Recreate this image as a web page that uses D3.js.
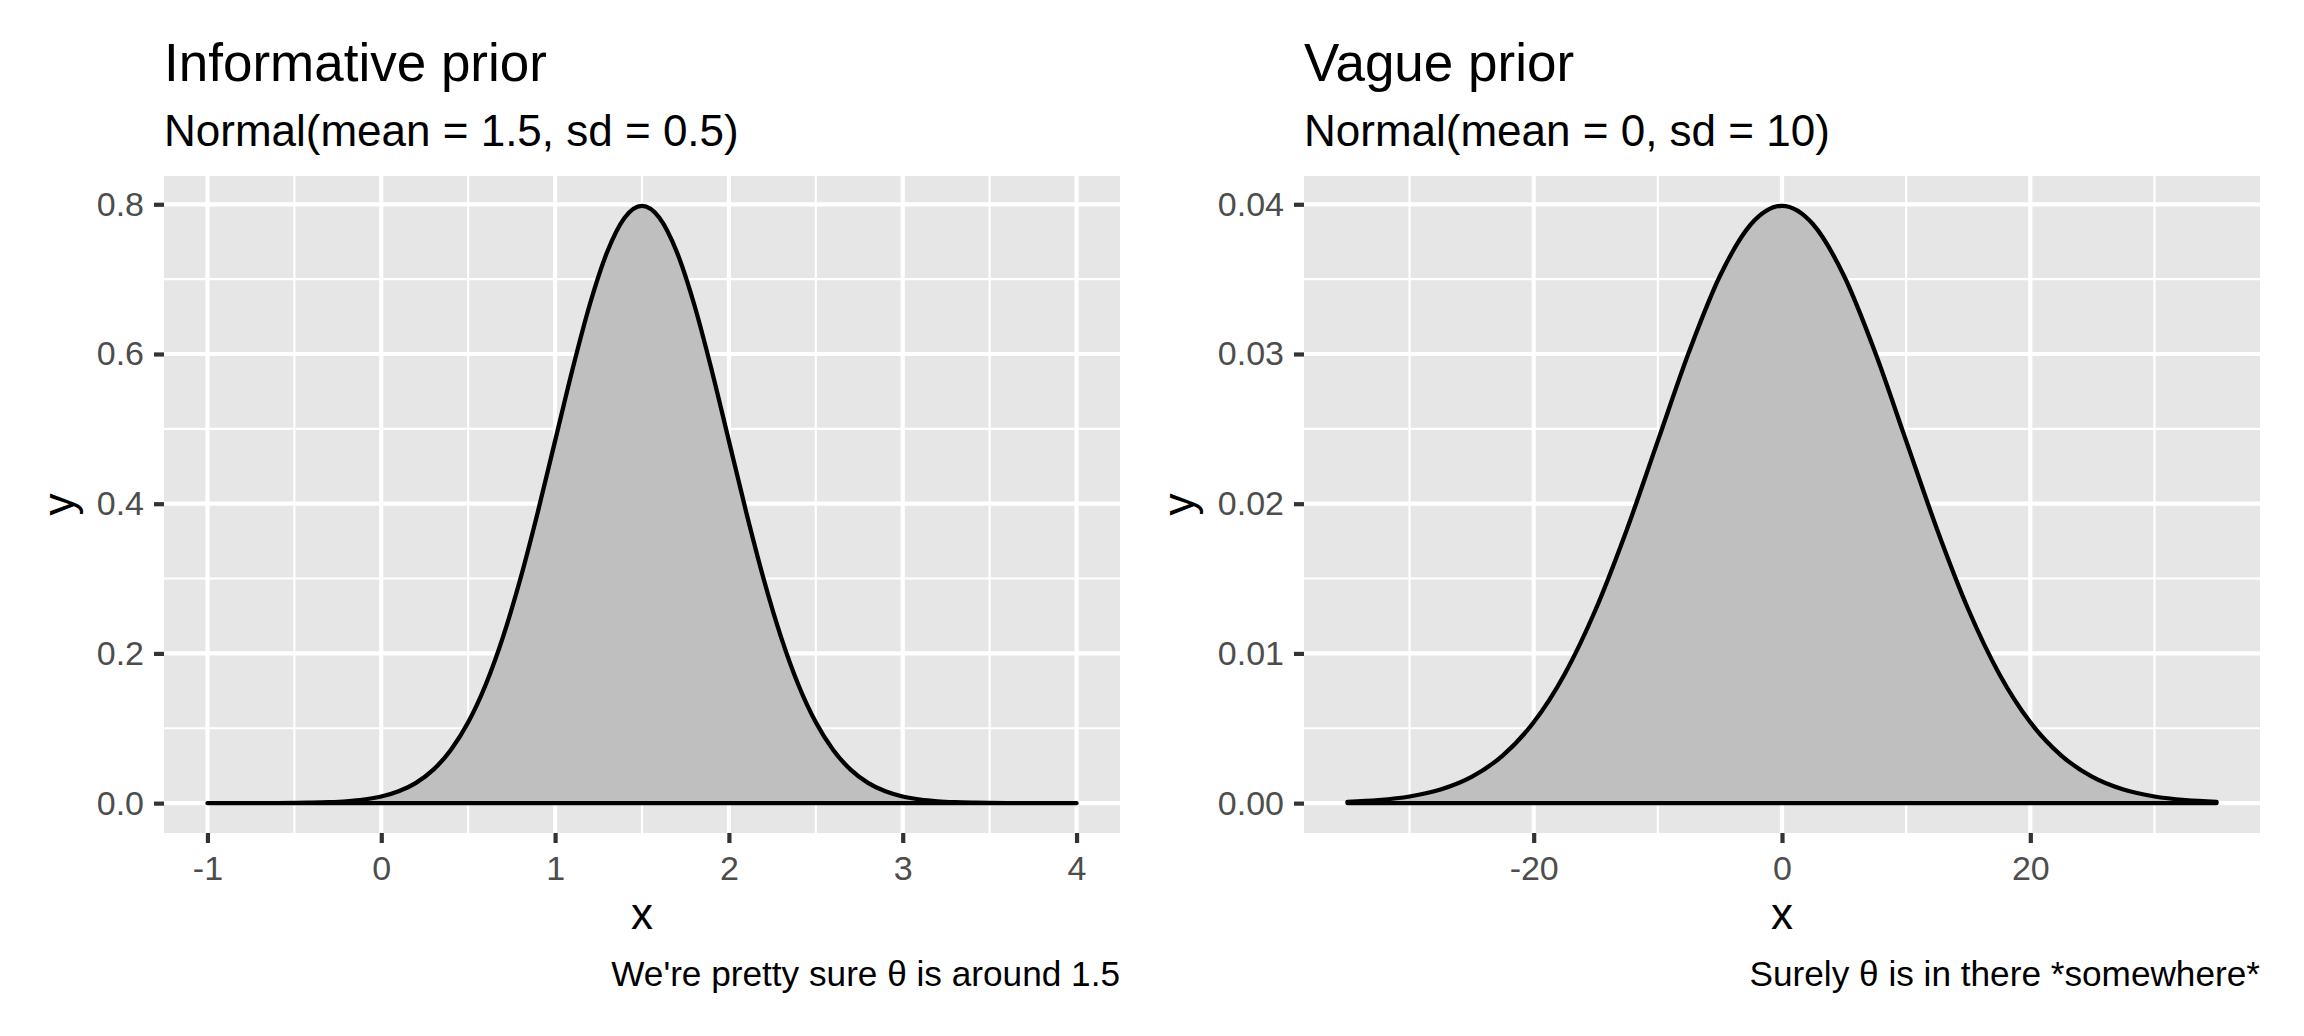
<!DOCTYPE html>
<html>
<head>
<meta charset="utf-8">
<script src="https://cdn.jsdelivr.net/npm/d3@7/dist/d3.min.js"></script>
<style>
  html, body { margin: 0; padding: 0; background: #ffffff; }
  svg { display: block; }
  text { font-family: "Liberation Sans", Arial, Helvetica, sans-serif; }
</style>
</head>
<body>
<svg id="chart" width="2304" height="1036"></svg>
<script>
// ---------------- data ----------------
const infoTitle = "Informative prior";
const infoSubtitle = "Normal(mean = 1.5, sd = 0.5)";
const infoCaption = "We're pretty sure θ is around 1.5";
const infoX = [-1.0,-0.9,-0.8,-0.7,-0.6,-0.5,-0.4,-0.3,-0.2,-0.1,
  0.0,0.1,0.2,0.3,0.4,0.5,0.6,0.7,0.8,0.9,
  1.0,1.1,1.2,1.3,1.4,1.5,1.6,1.7,1.8,1.9,
  2.0,2.1,2.2,2.3,2.4,2.5,2.6,2.7,2.8,2.9,
  3.0,3.1,3.2,3.3,3.4,3.5,3.6,3.7,3.8,3.9,4.0];
const infoY = [0.000003,0.000008,0.000020,0.000050,0.000118,0.000268,0.000584,0.001224,0.002465,0.004768,
  0.008864,0.015831,0.027166,0.044789,0.070949,0.107982,0.157900,0.221842,0.299455,0.388372,
  0.483941,0.579383,0.666449,0.736540,0.782085,0.797885,0.782085,0.736540,0.666449,0.579383,
  0.483941,0.388372,0.299455,0.221842,0.157900,0.107982,0.070949,0.044789,0.027166,0.015831,
  0.008864,0.004768,0.002465,0.001224,0.000584,0.000268,0.000118,0.000050,0.000020,0.000008,0.000003];
const infoXTicks = [-1, 0, 1, 2, 3, 4];
const infoXTickLabels = ["-1", "0", "1", "2", "3", "4"];
const infoXMinor = [-0.5, 0.5, 1.5, 2.5, 3.5];
const infoYTicks = [0, 0.2, 0.4, 0.6, 0.8];
const infoYTickLabels = ["0.0", "0.2", "0.4", "0.6", "0.8"];
const infoYMinor = [0.1, 0.3, 0.5, 0.7];

const vagueTitle = "Vague prior";
const vagueSubtitle = "Normal(mean = 0, sd = 10)";
const vagueCaption = "Surely θ is in there *somewhere*";
const vagueX = [-35,-32.5,-30,-27.5,-25,-22.5,-20,-17.5,-15,-12.5,-10,-7.5,-5,-2.5,
  0,2.5,5,7.5,10,12.5,15,17.5,20,22.5,25,27.5,30,32.5,35];
const vagueY = [0.0000873,0.000203,0.000443,0.000909,0.001753,0.003174,0.005399,0.008628,0.012952,0.018265,
  0.024197,0.030114,0.035207,0.038667,0.039894,0.038667,0.035207,0.030114,0.024197,0.018265,
  0.012952,0.008628,0.005399,0.003174,0.001753,0.000909,0.000443,0.000203,0.0000873];
const vagueXTicks = [-20, 0, 20];
const vagueXTickLabels = ["-20", "0", "20"];
const vagueXMinor = [-30, -10, 10, 30];
const vagueYTicks = [0, 0.01, 0.02, 0.03, 0.04];
const vagueYTickLabels = ["0.00", "0.01", "0.02", "0.03", "0.04"];
const vagueYMinor = [0.005, 0.015, 0.025, 0.035];

const xLabel = "x";
const yLabel = "y";

// ---------------- drawing ----------------
const svg = d3.select("#chart");

function expand(ext, f) {
  const d = (ext[1] - ext[0]) * f;
  return [ext[0] - d, ext[1] + d];
}

function drawPanel(cfg) {
  const { left, right, top, bottom } = cfg;
  const pts = cfg.xs.map((x, i) => ({ x: x, y: cfg.ys[i] }));
  const xExt = d3.extent(cfg.xs);
  const yExt = [0, d3.max(cfg.ys)];
  const x = d3.scaleLinear().domain(expand(xExt, 0.05)).range([left, right]);
  const y = d3.scaleLinear().domain(expand(yExt, 0.05)).range([bottom, top]);

  const g = svg.append("g");

  // panel background
  g.append("rect")
    .attr("x", left).attr("y", top)
    .attr("width", right - left).attr("height", bottom - top)
    .attr("fill", "#E6E6E6");

  // minor gridlines
  g.selectAll(".vminor").data(cfg.xMinor).enter().append("line")
    .attr("x1", d => x(d)).attr("x2", d => x(d))
    .attr("y1", top).attr("y2", bottom)
    .attr("stroke", "#ffffff").attr("stroke-width", 2.1);
  g.selectAll(".hminor").data(cfg.yMinor).enter().append("line")
    .attr("y1", d => y(d)).attr("y2", d => y(d))
    .attr("x1", left).attr("x2", right)
    .attr("stroke", "#ffffff").attr("stroke-width", 2.1);
  // major gridlines
  g.selectAll(".vmajor").data(cfg.xTicks).enter().append("line")
    .attr("x1", d => x(d)).attr("x2", d => x(d))
    .attr("y1", top).attr("y2", bottom)
    .attr("stroke", "#ffffff").attr("stroke-width", 4.2);
  g.selectAll(".hmajor").data(cfg.yTicks).enter().append("line")
    .attr("y1", d => y(d)).attr("y2", d => y(d))
    .attr("x1", left).attr("x2", right)
    .attr("stroke", "#ffffff").attr("stroke-width", 4.2);

  // area
  const area = d3.area()
    .x(d => x(d.x))
    .y0(y(0))
    .y1(d => y(d.y))
    .curve(d3.curveMonotoneX);
  g.append("path")
    .datum(pts)
    .attr("d", area)
    .attr("fill", "#BFBFBF")
    .attr("stroke", "#000000")
    .attr("stroke-width", 4.3)
    .attr("stroke-linejoin", "round");

  // axes
  const xAxis = d3.axisBottom(x)
    .tickValues(cfg.xTicks)
    .tickFormat((d, i) => cfg.xTickLabels[i])
    .tickSize(10).tickPadding(12.5);
  const gx = g.append("g").attr("transform", `translate(0,${bottom})`).call(xAxis);
  const yAxis = d3.axisLeft(y)
    .tickValues(cfg.yTicks)
    .tickFormat((d, i) => cfg.yTickLabels[i])
    .tickSize(10).tickPadding(10);
  const gy = g.append("g").attr("transform", `translate(${left},0)`).call(yAxis);
  [gx, gy].forEach(a => {
    a.select(".domain").remove();
    a.selectAll(".tick line").attr("stroke", "#333333").attr("stroke-width", 4.2);
    a.selectAll(".tick text")
      .attr("fill", "#4D4D4D")
      .style("font-size", "34px")
      .style("font-family", '"Liberation Sans", Arial, Helvetica, sans-serif');
  });

  // titles
  g.append("text").attr("x", left).attr("y", 81)
    .style("font-size", "53px").attr("fill", "#000")
    .text(cfg.title);
  g.append("text").attr("x", left).attr("y", 146)
    .style("font-size", "44px").attr("fill", "#000")
    .text(cfg.subtitle);

  // axis titles
  g.append("text")
    .attr("x", (left + right) / 2).attr("y", 929)
    .attr("text-anchor", "middle")
    .style("font-size", "44px").attr("fill", "#000")
    .text(xLabel);
  g.append("text")
    .attr("transform", `translate(${cfg.yTitleX},${(top + bottom) / 2}) rotate(-90)`)
    .attr("text-anchor", "middle")
    .style("font-size", "44px").attr("fill", "#000")
    .text(yLabel);

  // caption
  g.append("text")
    .attr("x", right).attr("y", 986)
    .attr("text-anchor", "end")
    .style("font-size", "35.2px").attr("fill", "#000")
    .text(cfg.caption);
}

drawPanel({
  left: 164, right: 1120, top: 176, bottom: 833,
  xs: infoX, ys: infoY,
  xTicks: infoXTicks, xTickLabels: infoXTickLabels, xMinor: infoXMinor,
  yTicks: infoYTicks, yTickLabels: infoYTickLabels, yMinor: infoYMinor,
  title: infoTitle, subtitle: infoSubtitle, caption: infoCaption,
  yTitleX: 74
});

drawPanel({
  left: 1304, right: 2260, top: 176, bottom: 833,
  xs: vagueX, ys: vagueY,
  xTicks: vagueXTicks, xTickLabels: vagueXTickLabels, xMinor: vagueXMinor,
  yTicks: vagueYTicks, yTickLabels: vagueYTickLabels, yMinor: vagueYMinor,
  title: vagueTitle, subtitle: vagueSubtitle, caption: vagueCaption,
  yTitleX: 1194
});
</script>
</body>
</html>
